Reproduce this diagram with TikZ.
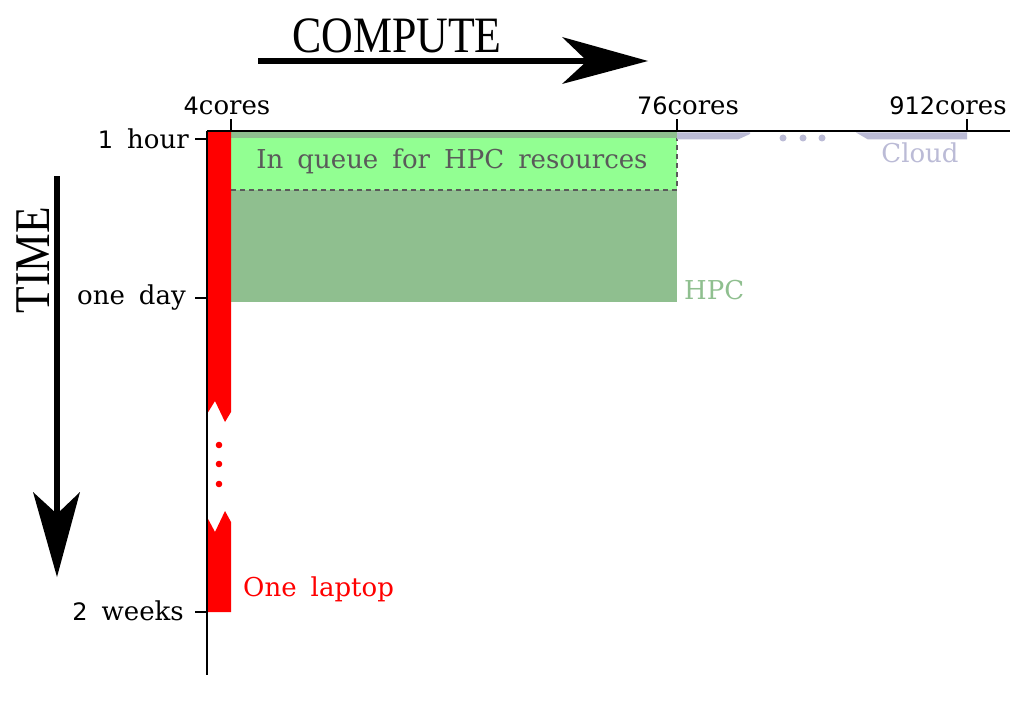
\documentclass[tikz,border=0pt]{standalone}
\usepackage{fontspec}
\usepackage{graphicx}
\setmainfont[WordSpace=1.7]{DejaVu Serif}
\newfontfamily\digitfont{DejaVu Sans}
\newfontfamily\bigfont{Liberation Serif}
\definecolor{hpcdark}{RGB}{143,191,143}
\definecolor{hpclight}{RGB}{146,255,146}
\definecolor{cloudc}{RGB}{187,187,214}
\definecolor{laptopred}{RGB}{255,0,0}
\definecolor{queuegray}{RGB}{90,90,90}
\tikzset{
  axisline/.style={line width=2.8pt, black},
  lbl/.style={inner sep=0pt, font=\fontsize{26}{31}\selectfont},
  bigarrowline/.style={line width=5.5pt, black},
}
\newcommand{\dg}[1]{{\digitfont\fontsize{24}{29}\selectfont #1}}
\begin{document}
\begin{tikzpicture}[x=1pt,y=-1pt]
\useasboundingbox (0,0) rectangle (1036,706);
% coordinates
\coordinate (O) at (207,131);
\coordinate (xend) at (1010,131);
\coordinate (yend) at (207,675);
% green HPC areas
\fill[hpcdark] (231,131) rectangle (677,302);
\fill[hpclight] (231,138) rectangle (677,190);
\draw[queuegray, line width=2pt, dash pattern=on 5pt off 4pt] (231,190) -- (677,190) -- (677,138);
% cloud bars
\fill[cloudc] (677,132.5) -- (750,132.5) -- (750,134) -- (738,139.5) -- (677,139.5) -- cycle;
\fill[cloudc] (856,132.5) -- (967,132.5) -- (967,139.5) -- (868,139.5) -- cycle;
\foreach \x in {783,803,822} \fill[cloudc] (\x,138) circle (3.5pt);
% red laptop bar
\fill[laptopred] (207,131) -- (231,131) -- (231,412) -- (225,422) -- (215,401) -- (207,414) -- cycle;
\fill[laptopred] (207,612) -- (231,612) -- (231,522) -- (225,511) -- (215,532) -- (207,517) -- cycle;
\foreach \y in {445,464,484} \fill[laptopred] (219,\y) circle (3.3pt);
% axes
\draw[axisline] (O) -- (xend);
\draw[axisline] (O) -- (yend);
% top ticks
\draw[axisline] (231,131) -- (231,119);
\draw[axisline] (677,131) -- (677,119);
\draw[axisline] (967,131) -- (967,119);
% left ticks
\draw[axisline] (195,139) -- (207,139);
\draw[axisline] (195,298) -- (207,298);
\draw[axisline] (195,612) -- (207,612);
% tick labels
\node[lbl] (c4) at (227,106) {\dg{4}cores};
\node[lbl] (c76) at (688,106) {\dg{76}cores};
\node[lbl] (c912) at (948,106) {\dg{912}cores};
\node[lbl, anchor=east] (hour) at (189,139) {\dg{1} hour};
\node[lbl, anchor=east] (day) at (186,298) {one day};
\node[lbl, anchor=east] (weeks) at (184,611) {\dg{2} weeks};
% area labels
\node[lbl, text=queuegray] (queue) at (452,161) {In queue for HPC resources};
\node[lbl, text=hpcdark, anchor=west] (hpc) at (684,290) {HPC};
\node[lbl, text=cloudc] (cloud) at (920,153) {Cloud};
\node[lbl, text=laptopred, anchor=west] (laptop) at (243,589) {One laptop};
% big arrows
\node[inner sep=0pt, font=\bigfont\fontsize{51}{60}\selectfont] (compute) at (397,36) {\scalebox{0.86}[1]{COMPUTE}};
\coordinate (cs) at (258,61);
\coordinate (ce) at (590,61);
\draw[bigarrowline] (cs) -- (ce);
\fill[black] (648,61) -- (562,37) -- (587,61) -- (562,84) -- cycle;
\node[inner sep=0pt, rotate=90, font=\bigfont\fontsize{50}{60}\selectfont] (time) at (33,260) {\scalebox{0.87}[1]{TIME}};
\coordinate (ts) at (57,176);
\coordinate (te) at (57,517);
\draw[bigarrowline] (ts) -- (te);
\fill[black] (57,577) -- (33,492) -- (57,514) -- (80,492) -- cycle;
\end{tikzpicture}
\end{document}
